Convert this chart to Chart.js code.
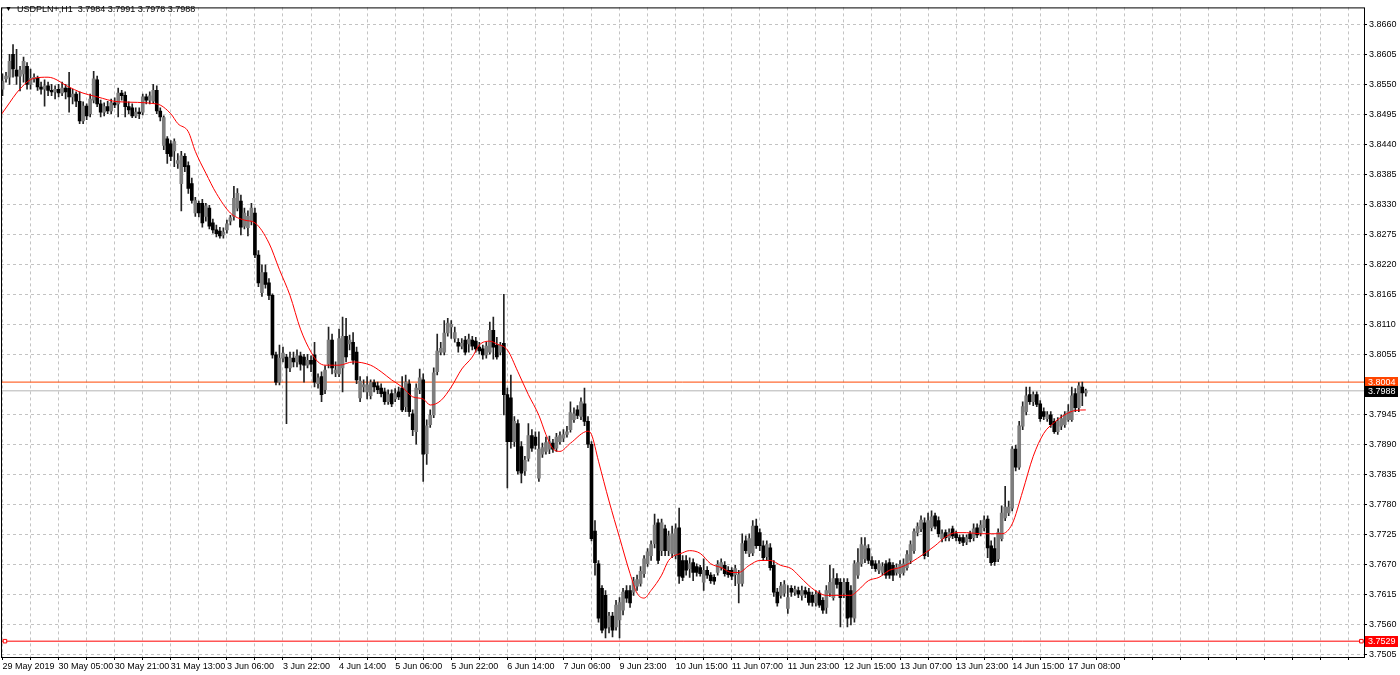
<!DOCTYPE html>
<html>
<head>
<meta charset="utf-8">
<title>USDPLN+,H1</title>
<script src="https://cdn.jsdelivr.net/npm/chart.js@4.4.1/dist/chart.umd.min.js"></script>
<style>
    html, body { margin: 0; padding: 0; background: #fff; }
    #wrap { position: relative; width: 1400px; height: 675px; }
    #title { position: absolute; left: 5px; top: 4px; font: 9px "Liberation Sans", Arial, sans-serif; color: #000; white-space: pre; }
    #title .arrow { font-size: 7px; position: relative; top: -1px; }
</style>
</head>
<body>
<div id="wrap">
    <canvas id="chart" width="1400" height="675"></canvas>
    <div id="title"><span class="arrow">▼</span>  USDPLN+,H1  3.7984 3.7991 3.7978 3.7988</div>
</div>
<script>
// prices in points (1 point = 0.0001), one entry per H1 bar
var opens = [
    38541, 38560, 38563, 38605, 38576, 38565, 38569, 38583, 38550, 38560,
    38561, 38545, 38541, 38547, 38539, 38536, 38541, 38534, 38543, 38543,
    38527, 38532, 38519, 38483, 38510, 38496, 38521, 38558, 38514, 38499,
    38509, 38501, 38516, 38514, 38534, 38530, 38509, 38507, 38492, 38499,
    38499, 38527, 38521, 38519, 38539, 38501, 38438, 38450, 38441, 38428,
    38405, 38368, 38418, 38401, 38368, 38314, 38332, 38332, 38308, 38323,
    38296, 38283, 38281, 38274, 38283, 38299, 38308, 38323, 38336, 38290,
    38287, 38299, 38314, 38237, 38168, 38205, 38186, 38163, 38054, 38004,
    38048, 38050, 38030, 38048, 38041, 38052, 38050, 38035, 38044, 38054,
    38001, 38014, 37990, 38037, 38081, 38021, 38019, 38030, 38088, 38074,
    38077, 38059, 37975, 37995, 37986, 37979, 38003, 37997, 37993, 37986,
    37968, 37983, 37973, 37986, 37993, 37959, 38001, 37946, 37913, 37990,
    38008, 37873, 37926, 37944, 38023, 38059, 38059, 38094, 38105, 38084,
    38077, 38070, 38081, 38074, 38081, 38079, 38068, 38065, 38054, 38059,
    38099, 38072, 38059, 38075, 37981, 37975, 37895, 37928, 37886, 37841,
    37864, 37906, 37903, 37828, 37872, 37877, 37881, 37892, 37883, 37895,
    37901, 37908, 37917, 37935, 37953, 37941, 37964, 37932, 37890, 37731,
    37671, 37626, 37613, 37555, 37575, 37555, 37568, 37586, 37622, 37622,
    37619, 37630, 37635, 37653, 37671, 37686, 37708, 37746, 37695, 37735,
    37695, 37690, 37686, 37737, 37677, 37677, 37662, 37673, 37666, 37664,
    37637, 37659, 37650, 37646, 37655, 37664, 37668, 37659, 37659, 37651,
    37635, 37635, 37713, 37690, 37691, 37740, 37728, 37704, 37684, 37700,
    37668, 37619, 37613, 37617, 37589, 37626, 37619, 37622, 37613, 37622,
    37619, 37613, 37599, 37617, 37604, 37591, 37617, 37609, 37644, 37637,
    37617, 37637, 37622, 37571, 37650, 37671, 37680, 37699, 37677, 37671,
    37659, 37655, 37671, 37673, 37668, 37655, 37653, 37655, 37664, 37677,
    37695, 37728, 37735, 37746, 37695, 37737, 37759, 37750, 37717, 37728,
    37719, 37735, 37726, 37719, 37719, 37711, 37726, 37719, 37737, 37728,
    37737, 37753, 37704, 37699, 37680, 37717, 37755, 37764, 37773, 37881,
    37848, 37923, 37950, 37981, 37968, 37981, 37964, 37950, 37937, 37944,
    37932, 37913, 37923, 37926, 37935, 37935, 37983, 37957, 37995, 37984
];
var highs = [
    38569, 38572, 38605, 38623, 38614, 38583, 38600, 38590, 38578, 38569,
    38565, 38554, 38558, 38554, 38550, 38547, 38550, 38554, 38550, 38572,
    38541, 38536, 38536, 38518, 38514, 38532, 38574, 38565, 38521, 38516,
    38519, 38523, 38525, 38543, 38539, 38536, 38518, 38514, 38507, 38507,
    38532, 38532, 38536, 38550, 38547, 38507, 38492, 38454, 38447, 38450,
    38423, 38427, 38423, 38408, 38378, 38343, 38336, 38339, 38332, 38328,
    38303, 38292, 38288, 38287, 38301, 38310, 38363, 38359, 38347, 38323,
    38318, 38332, 38323, 38245, 38219, 38219, 38194, 38166, 38059, 38072,
    38068, 38055, 38059, 38059, 38063, 38059, 38055, 38055, 38052, 38077,
    38019, 38023, 38034, 38105, 38092, 38041, 38101, 38123, 38121, 38090,
    38095, 38068, 38014, 38008, 38014, 38008, 38008, 38004, 38001, 37993,
    37990, 37990, 37992, 37995, 38014, 38017, 38008, 37953, 38001, 38028,
    38019, 37935, 37953, 38030, 38092, 38077, 38117, 38121, 38117, 38105,
    38084, 38084, 38088, 38092, 38088, 38086, 38077, 38072, 38077, 38114,
    38123, 38086, 38077, 38165, 37993, 38017, 37941, 37935, 37895, 37868,
    37928, 37917, 37913, 37913, 37892, 37903, 37905, 37899, 37910, 37913,
    37917, 37923, 37968, 37957, 37961, 37975, 37993, 37941, 37895, 37750,
    37677, 37631, 37622, 37582, 37582, 37604, 37609, 37626, 37631, 37631,
    37646, 37650, 37666, 37686, 37699, 37713, 37762, 37753, 37753, 37742,
    37731, 37740, 37744, 37773, 37686, 37686, 37682, 37680, 37671, 37668,
    37680, 37666, 37655, 37651, 37677, 37680, 37675, 37666, 37664, 37668,
    37659, 37726, 37722, 37726, 37750, 37753, 37735, 37713, 37713, 37708,
    37677, 37626, 37637, 37640, 37631, 37631, 37630, 37628, 37630, 37628,
    37626, 37619, 37622, 37622, 37609, 37631, 37668, 37662, 37653, 37644,
    37644, 37644, 37631, 37677, 37699, 37719, 37719, 37706, 37684, 37677,
    37677, 37673, 37677, 37680, 37673, 37671, 37677, 37680, 37695, 37713,
    37735, 37746, 37759, 37755, 37764, 37768, 37764, 37757, 37733, 37733,
    37735, 37740, 37731, 37724, 37724, 37724, 37731, 37744, 37744, 37750,
    37759, 37759, 37713, 37719, 37735, 37777, 37813, 37786, 37886, 37888,
    37932, 37968, 37995, 37995, 37986, 37986, 37970, 37957, 37950, 37950,
    37937, 37939, 37944, 37950, 37963, 37995, 37992, 38003, 38004, 37991
];
var lows = [
    38529, 38554, 38550, 38563, 38550, 38538, 38554, 38541, 38541, 38554,
    38539, 38532, 38510, 38529, 38529, 38523, 38527, 38529, 38523, 38499,
    38514, 38509, 38478, 38478, 38485, 38490, 38516, 38509, 38490, 38492,
    38496, 38496, 38507, 38490, 38521, 38490, 38496, 38489, 38489, 38487,
    38494, 38514, 38514, 38516, 38496, 38483, 38430, 38405, 38410, 38399,
    38396, 38318, 38390, 38350, 38332, 38308, 38307, 38288, 38299, 38285,
    38277, 38270, 38268, 38268, 38277, 38292, 38301, 38318, 38274, 38285,
    38272, 38292, 38232, 38179, 38161, 38176, 38155, 38048, 37999, 37999,
    38041, 37928, 38023, 38032, 38032, 38026, 38004, 38030, 38023, 37995,
    37993, 37968, 37983, 38030, 38019, 38014, 38014, 37986, 38041, 38063,
    38037, 38001, 37968, 37986, 37973, 37973, 37986, 37983, 37977, 37963,
    37963, 37959, 37968, 37972, 37950, 37950, 37941, 37906, 37890, 37983,
    37822, 37853, 37921, 37939, 38017, 38054, 38054, 38088, 38084, 38077,
    38059, 38065, 38054, 38059, 38063, 38059, 38055, 38046, 38048, 38055,
    38046, 38046, 38054, 37944, 37810, 37883, 37886, 37835, 37819, 37833,
    37859, 37877, 37881, 37822, 37866, 37872, 37873, 37875, 37877, 37890,
    37895, 37903, 37912, 37930, 37937, 37935, 37924, 37884, 37713, 37650,
    37564, 37544, 37535, 37544, 37537, 37549, 37535, 37577, 37600, 37591,
    37613, 37622, 37630, 37646, 37666, 37677, 37700, 37671, 37686, 37686,
    37686, 37682, 37680, 37635, 37640, 37650, 37646, 37640, 37648, 37648,
    37622, 37644, 37635, 37633, 37650, 37659, 37648, 37646, 37642, 37631,
    37599, 37630, 37690, 37684, 37686, 37699, 37695, 37677, 37677, 37659,
    37611, 37593, 37608, 37611, 37580, 37611, 37613, 37609, 37604, 37609,
    37595, 37593, 37593, 37591, 37580, 37580, 37611, 37604, 37626, 37555,
    37609, 37555, 37559, 37564, 37644, 37666, 37673, 37671, 37662, 37657,
    37653, 37650, 37644, 37644, 37640, 37650, 37646, 37650, 37659, 37671,
    37690, 37722, 37730, 37680, 37684, 37731, 37735, 37720, 37711, 37713,
    37713, 37717, 37713, 37708, 37704, 37706, 37711, 37713, 37719, 37722,
    37731, 37682, 37668, 37668, 37675, 37713, 37750, 37759, 37768, 37841,
    37844, 37917, 37944, 37963, 37961, 37959, 37932, 37935, 37932, 37921,
    37910, 37908, 37917, 37921, 37932, 37932, 37950, 37950, 37961, 37978
];
var closes = [
    38556, 38565, 38592, 38578, 38565, 38576, 38592, 38550, 38561, 38563,
    38545, 38541, 38547, 38539, 38536, 38541, 38534, 38543, 38536, 38527,
    38532, 38519, 38483, 38510, 38492, 38523, 38560, 38514, 38499, 38509,
    38501, 38516, 38512, 38534, 38529, 38509, 38503, 38492, 38499, 38496,
    38527, 38521, 38529, 38539, 38501, 38490, 38489, 38423, 38418, 38445,
    38410, 38419, 38399, 38359, 38337, 38337, 38314, 38296, 38327, 38290,
    38283, 38276, 38272, 38279, 38294, 38305, 38341, 38350, 38288, 38314,
    38308, 38323, 38237, 38186, 38205, 38183, 38163, 38054, 38004, 38048,
    38057, 38030, 38048, 38041, 38052, 38037, 38035, 38044, 38037, 38004,
    38012, 37981, 38026, 38081, 38030, 38026, 38084, 38088, 38050, 38081,
    38044, 38008, 38006, 37999, 37999, 38003, 37995, 37990, 37983, 37968,
    37981, 37964, 37983, 37977, 37953, 38004, 37950, 37917, 37993, 38012,
    37872, 37924, 37943, 38021, 38061, 38066, 38094, 38112, 38110, 38095,
    38070, 38075, 38059, 38083, 38070, 38065, 38061, 38054, 38070, 38099,
    38068, 38050, 38072, 37981, 37895, 37895, 37932, 37841, 37837, 37861,
    37906, 37883, 37888, 37881, 37884, 37893, 37895, 37881, 37903, 37906,
    37908, 37913, 37948, 37946, 37943, 37968, 37932, 37890, 37717, 37673,
    37571, 37549, 37553, 37575, 37549, 37595, 37600, 37619, 37608, 37599,
    37639, 37642, 37657, 37680, 37693, 37706, 37742, 37677, 37746, 37695,
    37722, 37726, 37735, 37648, 37646, 37659, 37671, 37655, 37655, 37653,
    37659, 37650, 37640, 37639, 37670, 37673, 37653, 37651, 37648, 37662,
    37651, 37708, 37695, 37717, 37740, 37704, 37704, 37682, 37706, 37664,
    37619, 37599, 37630, 37633, 37609, 37619, 37624, 37615, 37622, 37615,
    37600, 37600, 37615, 37595, 37586, 37622, 37637, 37644, 37633, 37609,
    37637, 37571, 37573, 37671, 37673, 37706, 37704, 37677, 37668, 37662,
    37671, 37666, 37650, 37650, 37650, 37664, 37670, 37671, 37688, 37706,
    37730, 37739, 37751, 37686, 37750, 37757, 37740, 37726, 37726, 37719,
    37728, 37722, 37719, 37713, 37710, 37719, 37717, 37735, 37724, 37742,
    37751, 37700, 37673, 37675, 37728, 37764, 37775, 37775, 37881, 37848,
    37924, 37959, 37979, 37968, 37981, 37963, 37937, 37941, 37944, 37926,
    37913, 37932, 37937, 37944, 37950, 37979, 37957, 37997, 37984, 37988
];

// red moving average, sampled at bar positions
var maIdx = [-0.4, 2, 4, 7, 9, 13, 19, 22, 27, 33, 44, 48, 50, 53, 55, 58, 61, 65, 69, 72,
    76, 79, 82, 85, 88, 90, 92, 96, 100, 105, 108, 111, 114, 117, 120, 122, 125, 128, 131, 134,
    136, 139, 141, 144, 147, 150, 153, 155, 157, 159, 162, 167, 168, 170, 173, 176, 179, 181, 183, 185,
    188, 190, 194, 196, 199, 202, 205, 208, 210, 213, 216, 219, 222, 225, 227, 230, 233, 235, 238, 242,
    244, 247, 250, 253, 256, 259, 263, 266, 269, 272, 275, 279, 282, 285, 288, 291, 294, 297, 300, 303,
    306, 309];
var maVal = [38494, 38516, 38534, 38554, 38561, 38563, 38545, 38536, 38527, 38518, 38514, 38496, 38478, 38463, 38427, 38387, 38350, 38314, 38301, 38296,
    38259, 38210, 38163, 38101, 38059, 38041, 38035, 38035, 38041, 38035, 38023, 38008, 37995, 37977, 37973, 37962, 37970, 37995, 38028, 38050,
    38072, 38079, 38074, 38063, 38023, 37981, 37943, 37908, 37882, 37877, 37892, 37914, 37908, 37859, 37786, 37719, 37653, 37617, 37608, 37622,
    37650, 37677, 37691, 37695, 37690, 37671, 37664, 37655, 37655, 37668, 37677, 37677, 37668, 37662, 37650, 37631, 37617, 37613, 37613, 37613,
    37622, 37640, 37646, 37659, 37664, 37673, 37690, 37704, 37720, 37728, 37728, 37726, 37726, 37726, 37744, 37804, 37868, 37910, 37930, 37944,
    37952, 37953];

// time labels, one every 16 bars
var timeLabels = ['29 May 2019', '30 May 05:00', '30 May 21:00', '31 May 13:00', '3 Jun 06:00',
    '3 Jun 22:00', '4 Jun 14:00', '5 Jun 06:00', '5 Jun 22:00', '6 Jun 14:00', '7 Jun 06:00',
    '9 Jun 23:00', '10 Jun 15:00', '11 Jun 07:00', '11 Jun 23:00', '12 Jun 15:00', '13 Jun 07:00',
    '13 Jun 23:00', '14 Jun 15:00', '17 Jun 08:00'];

var priceLabels = ['3.8660', '3.8605', '3.8550', '3.8495', '3.8440', '3.8385', '3.8330', '3.8275',
    '3.8220', '3.8165', '3.8110', '3.8055', '3.7945', '3.7890', '3.7835', '3.7780', '3.7725',
    '3.7670', '3.7615', '3.7560', '3.7505'];

// horizontal levels: stop line, bid line, low line
var levelOrange = 38004;
var levelBid = 37988;
var levelRed = 37529;

var P = function (v) { return v / 10000; };

var xMin = -0.43, xMax = 388.35;
var fontFamily = '"Liberation Sans", Arial, sans-serif';

var wickData = [], bodyData = [], bodyColors = [];
for (let i = 0; i < opens.length; i++) {
    wickData.push({ x: i, y: [P(lows[i]), P(highs[i])] });
    bodyData.push({ x: i, y: [P(opens[i]), P(closes[i])] });
    bodyColors.push(closes[i] > opens[i] ? '#7d7d7d' : '#000000');
}
var maData = maIdx.map((x, i) => ({ x: x, y: P(maVal[i]) }));

var gridIdx = [];
for (let v = 0; v <= 384; v += 8) gridIdx.push(v);

var tags = [
    { v: levelOrange, bg: '#ff4500' },
    { v: levelBid, bg: '#000000' },
    { v: levelRed, bg: '#ff0000' }
];

var framePlugin = {
    id: 'frame',
    afterDraw: function (chart) {
        var ctx = chart.ctx, ca = chart.chartArea;
        ctx.save();
        ctx.strokeStyle = '#000';
        ctx.lineWidth = 1;
        ctx.strokeRect(ca.left + 0.5, ca.top + 0.5, ca.right - ca.left, ca.bottom - ca.top);
        var ys = chart.scales.y;
        ctx.font = '9px ' + fontFamily;
        ctx.textBaseline = 'middle';
        ctx.textAlign = 'left';
        tags.forEach(function (t) {
            var y = Math.round(ys.getPixelForValue(P(t.v)));
            ctx.fillStyle = t.bg;
            ctx.fillRect(ca.right + 1, y - 5, 33, 11);
            ctx.fillStyle = '#fff';
            ctx.fillText(P(t.v).toFixed(4), ca.right + 4, y + 0.5);
        });
        ctx.restore();
    }
};

var ctx = document.getElementById('chart').getContext('2d');
new Chart(ctx, {
    type: 'bar',
    data: {
        datasets: [{
            type: 'line',
            data: [{ x: xMin, y: P(levelOrange) }, { x: xMax, y: P(levelOrange) }],
            borderColor: '#ff4500',
            borderWidth: 1,
            pointRadius: 0,
            order: 5
        }, {
            type: 'line',
            data: [{ x: xMin, y: P(levelBid) }, { x: xMax, y: P(levelBid) }],
            borderColor: '#b4b4b4',
            borderWidth: 1,
            pointRadius: 0,
            order: 5
        }, {
            type: 'line',
            data: [{ x: xMin, y: P(levelRed) }, { x: 0.7, y: P(levelRed) }, { x: 387.6, y: P(levelRed) }, { x: xMax, y: P(levelRed) }],
            borderColor: '#ff0000',
            borderWidth: 1,
            pointRadius: [0, 2.5, 2.5, 0],
            pointStyle: 'rect',
            pointBackgroundColor: '#fff',
            pointBorderColor: '#ff0000',
            pointBorderWidth: 1,
            order: 5
        }, {
            label: 'wicks',
            data: wickData,
            backgroundColor: '#222',
            barThickness: 1,
            grouped: false,
            order: 4
        }, {
            label: 'bodies',
            data: bodyData,
            backgroundColor: bodyColors,
            barThickness: 3,
            minBarLength: 1,
            grouped: false,
            order: 3
        }, {
            type: 'line',
            label: 'MA',
            data: maData,
            borderColor: '#ff0000',
            borderWidth: 1,
            pointRadius: 0,
            cubicInterpolationMode: 'monotone',
            order: 1
        }]
    },
    options: {
        responsive: false,
        animation: false,
        devicePixelRatio: 1,
        layout: { padding: { left: 1, top: 3, right: 0, bottom: 0 } },
        plugins: {
            legend: { display: false },
            tooltip: { enabled: false }
        },
        scales: {
            x: {
                type: 'linear',
                position: 'bottom',
                min: xMin,
                max: xMax,
                offset: false,
                afterBuildTicks: function (axis) {
                    axis.ticks = gridIdx.map(v => ({ value: v }));
                },
                afterFit: function (axis) { axis.height = 18; },
                grid: { offset: false, color: '#c3c3c3', tickColor: '#000', tickLength: 3 },
                border: { display: false, dash: [3, 3] },
                ticks: {
                    autoSkip: false,
                    maxRotation: 0,
                    align: 'start',
                    padding: 1,
                    color: '#000',
                    font: { family: fontFamily, size: 9 },
                    callback: function (value) {
                        return value % 16 === 0 ? (timeLabels[value / 16] || '') : '';
                    }
                }
            },
            y: {
                type: 'linear',
                position: 'right',
                min: 3.7500,
                max: 3.8691,
                beginAtZero: false,
                afterBuildTicks: function (axis) {
                    axis.ticks = priceLabels.map(s => ({ value: Number(s) }));
                },
                afterFit: function (axis) { axis.width = 36; },
                grid: { color: '#c3c3c3', tickColor: '#000', tickLength: 3 },
                border: { display: false, dash: [3, 3] },
                ticks: {
                    padding: 2,
                    color: '#000',
                    font: { family: fontFamily, size: 9 },
                    callback: function (value) { return value.toFixed(4); }
                }
            }
        }
    },
    plugins: [framePlugin]
});
</script>
</body>
</html>
